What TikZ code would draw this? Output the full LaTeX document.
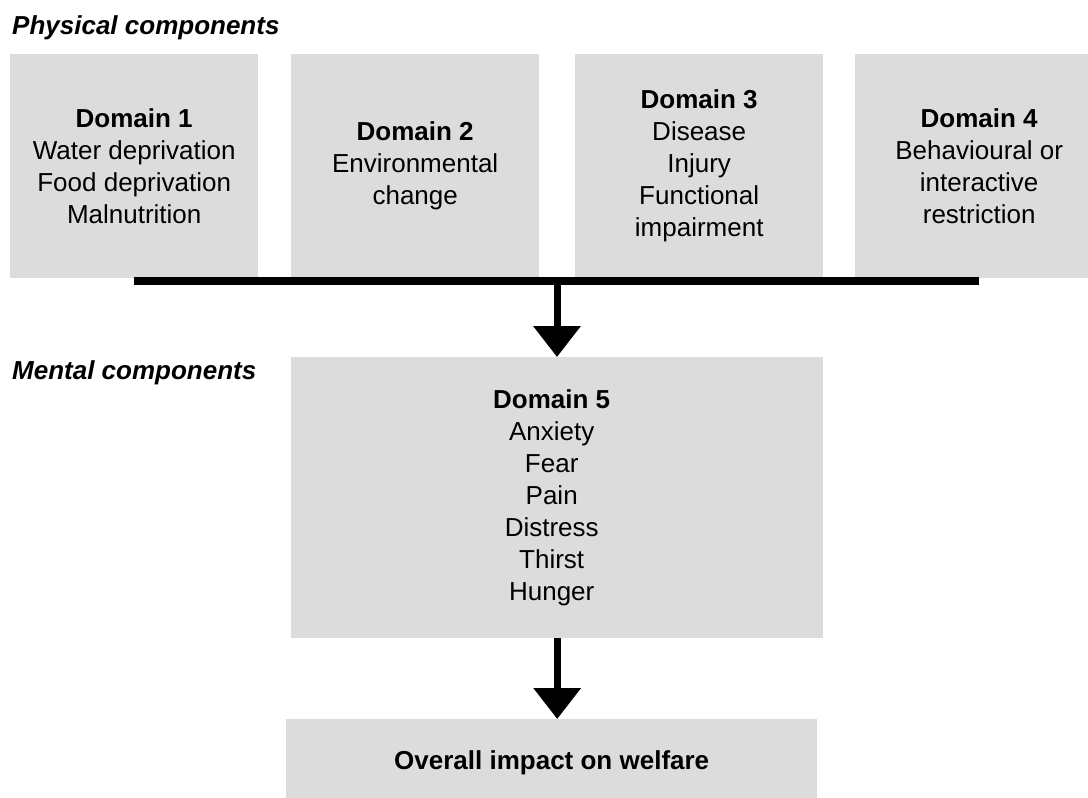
\documentclass[tikz,border=0pt]{standalone}
\usepackage{fontspec}
\setmainfont{Liberation Sans}
\usetikzlibrary{arrows.meta}
\definecolor{boxgray}{RGB}{220,220,220}
\begin{document}
\begin{tikzpicture}[x=1pt,y=-1pt,
  box/.style={fill=boxgray, draw=none, inner sep=0pt, align=center,
    font=\fontsize{26}{32}\selectfont, anchor=north west},
  lab/.style={font=\fontsize{26}{32}\selectfont\bfseries\itshape, anchor=base west, inner sep=0pt},
  arr/.style={line width=7pt, -{Triangle[width=46pt,length=31pt]}},
  bar/.style={line width=8pt}]
\useasboundingbox (0,0) rectangle (1088,798);
\clip (0,0) rectangle (1088,798);
\node[lab] (pl) at (12,34) {Physical components};
\node[lab] (ml) at (12,379) {Mental components};
\node[box, minimum width=248pt, minimum height=224pt] (d1) at (10,54)
  {\textbf{Domain 1}\\Water deprivation\\Food deprivation\\Malnutrition};
\node[box, minimum width=248pt, minimum height=224pt] (d2) at (291,54)
  {\textbf{Domain 2}\\Environmental\\change};
\node[box, minimum width=248pt, minimum height=224pt] (d3) at (575,54)
  {\textbf{Domain 3}\\Disease\\Injury\\Functional\\impairment};
\node[box, minimum width=248pt, minimum height=224pt] (d4) at (855,54)
  {\textbf{Domain 4}\\Behavioural or\\interactive\\restriction};
\node[box, minimum width=532pt, minimum height=281pt] (d5) at (291,357)
  {\begin{tabular}{@{}c@{\hspace{11pt}}}\textbf{Domain 5}\\Anxiety\\Fear\\Pain\\Distress\\Thirst\\Hunger\end{tabular}};
\node[box, minimum width=531pt, minimum height=88pt] (ov) at (286,719)
  {\textbf{Overall impact on welfare}};
\coordinate (bl) at (134,281);
\coordinate (br) at (979,281);
\coordinate (bm) at (557,281);
\draw[bar] (bl) -- (br);
\draw[arr] (bm) -- (bm |- d5.north);
\draw[arr] (d5.south) -- (d5.south |- ov.north);
\end{tikzpicture}
\end{document}
